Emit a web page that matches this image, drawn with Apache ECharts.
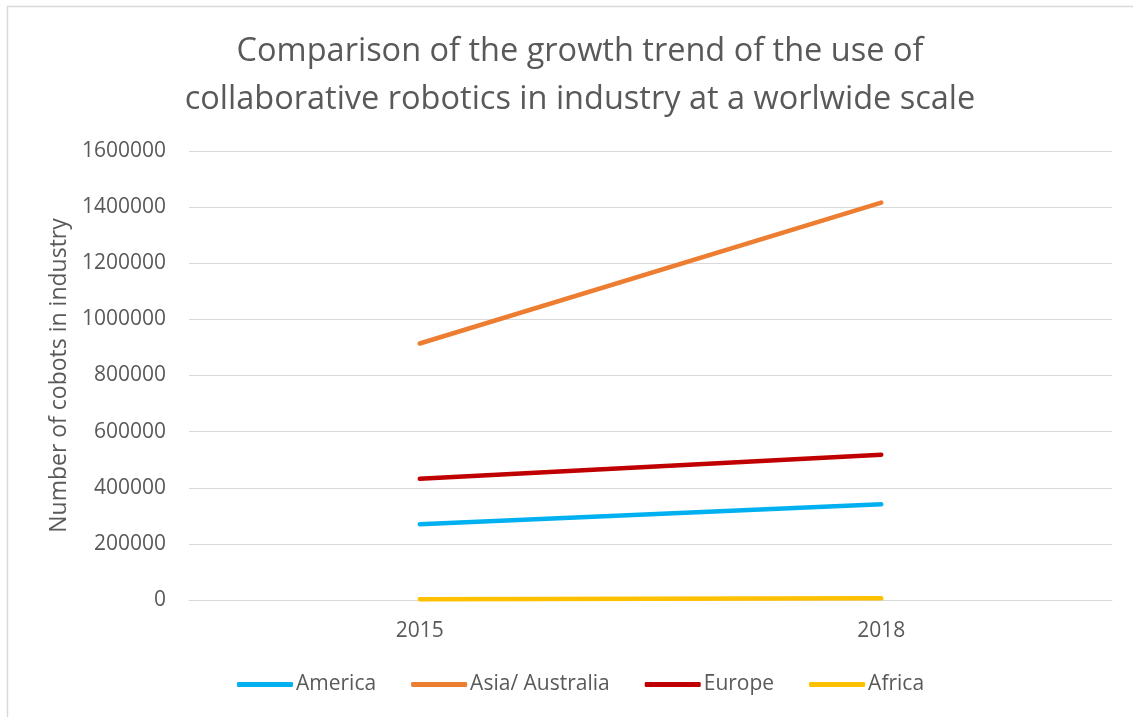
<!DOCTYPE html>
<html>
<head>
<meta charset="utf-8">
<script src="https://cdn.jsdelivr.net/npm/echarts@6/dist/echarts.min.js"></script>
<style>
  html, body { margin: 0; padding: 0; background: #ffffff; }
  #chart { width: 1133px; height: 717px; }
</style>
</head>
<body>
<div id="chart"></div>
<script>
// Years on the category axis
const years = ['2015', '2018'];

// Number of cobots in industry, per region
const america = [270000, 341000];
const asiaAustralia = [914000, 1416000];
const europe = [432000, 518000];
const africa = [3000, 6000];

const seriesNames = ['America', 'Asia/ Australia', 'Europe', 'Africa'];
const seriesValues = [america, asiaAustralia, europe, africa];
const seriesColors = ['#00B0F0', '#ED7D31', '#C00000', '#FFC000'];

const titleText = 'Comparison of the growth trend of the use of\ncollaborative robotics in industry at a worlwide scale';
const yAxisTitle = 'Number of cobots in industry';

const textColor = '#595959';
const gridColor = '#d9d9d9';
const fontFamily = '"Open Sans", "Noto Sans", sans-serif';

const chart = echarts.init(document.getElementById('chart'), null, { renderer: 'canvas' });

chart.setOption({
  backgroundColor: '#ffffff',
  animation: false,
  graphic: [{
    type: 'rect',
    shape: { x: 7.5, y: 6.5, width: 1300, height: 900 },
    style: { fill: 'none', stroke: gridColor, lineWidth: 1.5 },
    silent: true,
    z: -1
  }],
  title: {
    text: titleText,
    left: 575,
    top: 23,
    textAlign: 'center',
    textStyle: {
      color: textColor,
      fontFamily: fontFamily,
      fontWeight: 'normal',
      fontSize: 32.5,
      lineHeight: 48
    }
  },
  legend: {
    data: seriesNames,
    bottom: 17,
    left: 232,
    itemWidth: 56,
    itemHeight: 5,
    itemGap: 35,
    icon: 'roundRect',
    textStyle: { color: textColor, fontFamily: fontFamily, fontSize: 21, padding: [0, 0, 0, -2] }
  },
  grid: { left: 189, right: 21, top: 151, bottom: 117, containLabel: false },
  xAxis: {
    type: 'category',
    data: years,
    boundaryGap: true,
    axisLine: { show: true, lineStyle: { color: gridColor, width: 1 } },
    axisTick: { show: false },
    axisLabel: { color: textColor, fontFamily: fontFamily, fontSize: 21, margin: 21 }
  },
  yAxis: {
    type: 'value',
    min: 0,
    max: 1600000,
    interval: 200000,
    name: yAxisTitle,
    nameLocation: 'middle',
    nameGap: 118,
    nameTextStyle: { color: textColor, fontFamily: fontFamily, fontSize: 23 },
    axisLine: { show: false },
    axisTick: { show: false },
    axisLabel: {
      color: textColor, fontFamily: fontFamily, fontSize: 21, margin: 23,
      formatter: (v) => String(v)
    },
    splitLine: { lineStyle: { color: gridColor, width: 1 } }
  },
  series: seriesNames.map((name, i) => ({
    name: name,
    type: 'line',
    data: seriesValues[i],
    symbol: 'none',
    color: seriesColors[i],
    lineStyle: { width: 4.5, cap: 'round', color: seriesColors[i] }
  }))
});
</script>
</body>
</html>
